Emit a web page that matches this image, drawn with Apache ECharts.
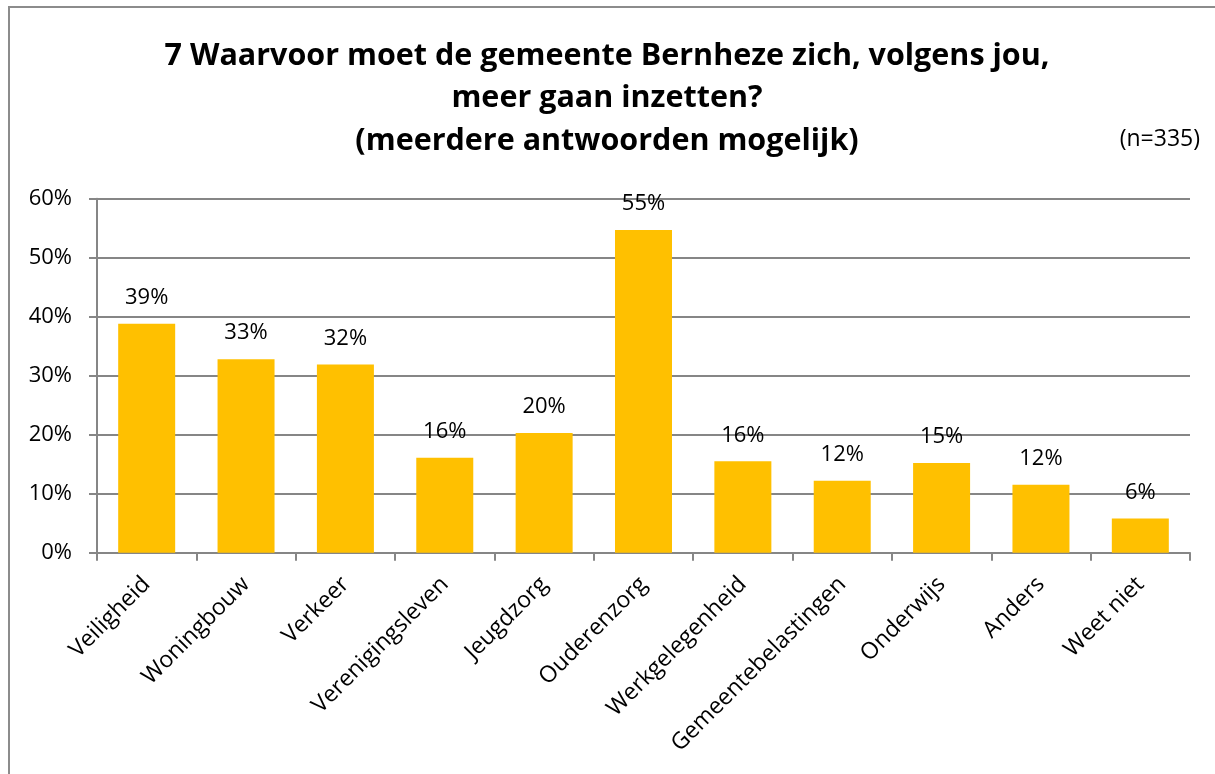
<!DOCTYPE html>
<html>
<head>
<meta charset="utf-8">
<script src="https://cdn.jsdelivr.net/npm/echarts@6/dist/echarts.min.js"></script>
<style>
  html, body { margin: 0; padding: 0; background: #fff; }
  #chart { width: 1215px; height: 774px; }
</style>
</head>
<body>
<div id="chart"></div>
<script>
// categorieen en percentages
const categories = ['Veiligheid', 'Woningbouw', 'Verkeer', 'Verenigingsleven', 'Jeugdzorg',
  'Ouderenzorg', 'Werkgelegenheid', 'Gemeentebelastingen', 'Onderwijs', 'Anders', 'Weet niet']
const values = [38.8, 32.8, 31.9, 16.1, 20.3, 54.7, 15.5, 12.2, 15.2, 11.5, 5.8]
const yTicks = [0, 10, 20, 30, 40, 50, 60]

const font = '"Open Sans", "Noto Sans", sans-serif'

const chart = echarts.init(document.getElementById('chart'))
chart.setOption({
  animation: false,
  backgroundColor: '#fff',
  graphic: [
    {
      type: 'rect',
      shape: { x: 9, y: 7, width: 1400, height: 1000 },
      style: { fill: 'none', stroke: '#8c8c8c', lineWidth: 2 }
    },
    {
      type: 'text',
      x: 607, y: 35,
      style: {
        text: '7 Waarvoor moet de gemeente Bernheze zich, volgens jou,\nmeer gaan inzetten?\n(meerdere antwoorden mogelijk)',
        font: 'bold 30.5px ' + font,
        fill: '#000',
        align: 'center',
        verticalAlign: 'top',
        lineHeight: 42.5
      }
    },
    {
      type: 'text',
      x: 1200, y: 139,
      style: {
        text: '(n=335)',
        font: '23px ' + font,
        fill: '#000',
        align: 'right',
        verticalAlign: 'middle'
      }
    }
  ],
  grid: { left: 97, right: 25, top: 198.7, bottom: 221.3, containLabel: false },
  xAxis: {
    type: 'category',
    data: categories,
    axisLine: { lineStyle: { color: '#868686', width: 2 } },
    axisTick: { show: true, length: 8, lineStyle: { color: '#868686', width: 2 } },
    axisLabel: {
      rotate: 45,
      margin: 28,
      interval: 0,
      fontFamily: font,
      fontSize: 23,
      color: '#000'
    }
  },
  yAxis: {
    type: 'value',
    min: 0,
    max: yTicks[yTicks.length - 1],
    interval: 10,
    axisLine: { show: true, lineStyle: { color: '#868686', width: 2 } },
    axisTick: { show: true, length: 8, lineStyle: { color: '#868686', width: 2 } },
    splitLine: { lineStyle: { color: '#868686', width: 2 } },
    axisLabel: {
      formatter: '{value}%',
      margin: 25,
      fontFamily: font,
      fontSize: 22,
      color: '#000'
    }
  },
  series: [{
    type: 'bar',
    data: values,
    barWidth: 57,
    itemStyle: { color: '#FFC000' },
    label: {
      show: true,
      position: 'top',
      distance: 15,
      formatter: p => Math.round(p.value) + '%',
      fontFamily: font,
      fontSize: 22,
      color: '#000'
    }
  }]
})
</script>
</body>
</html>
